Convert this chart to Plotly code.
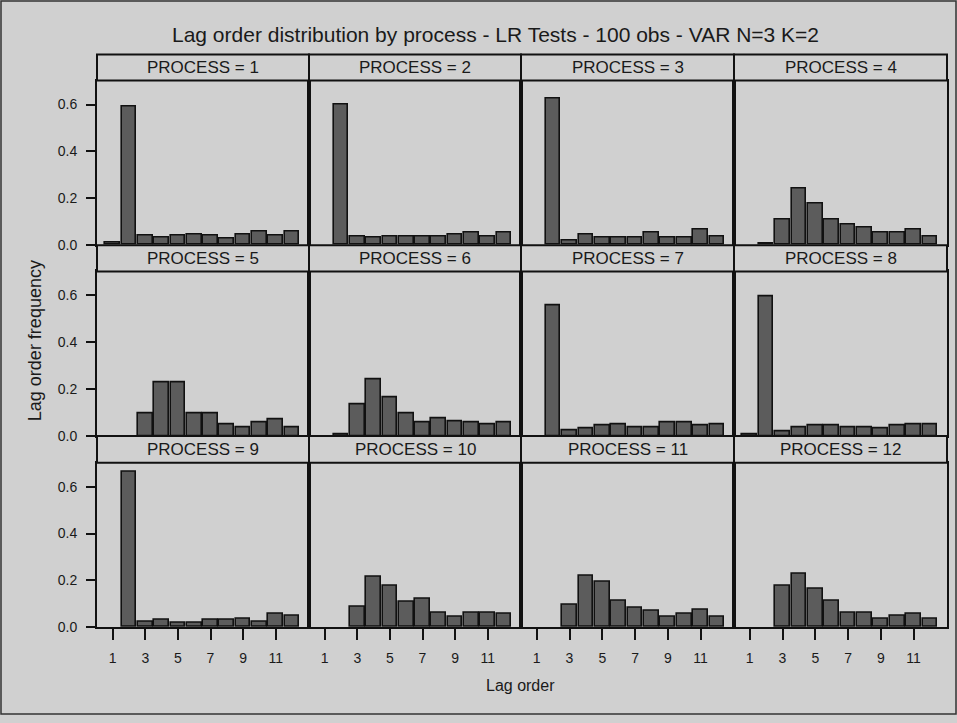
import plotly.graph_objects as go

# Lag order frequencies for each simulated process (lags 1..12)
lags = list(range(1, 13))
process_ids = list(range(1, 13))

freq_p1 = [0.01, 0.59, 0.04, 0.03, 0.04, 0.045, 0.04, 0.025, 0.045, 0.056, 0.04, 0.056]
freq_p2 = [0.0, 0.60, 0.037, 0.031, 0.037, 0.037, 0.037, 0.037, 0.044, 0.051, 0.037, 0.051]
freq_p3 = [0.0, 0.626, 0.017, 0.044, 0.031, 0.031, 0.031, 0.051, 0.031, 0.031, 0.063, 0.037]
freq_p4 = [0.0, 0.007, 0.107, 0.241, 0.178, 0.107, 0.087, 0.075, 0.051, 0.051, 0.063, 0.037]
freq_p5 = [0.0, 0.0, 0.096, 0.228, 0.228, 0.096, 0.096, 0.051, 0.037, 0.058, 0.07, 0.037]
freq_p6 = [0.0, 0.008, 0.134, 0.243, 0.165, 0.096, 0.058, 0.076, 0.063, 0.058, 0.051, 0.058]
freq_p7 = [0.0, 0.559, 0.025, 0.031, 0.045, 0.051, 0.038, 0.038, 0.058, 0.058, 0.045, 0.051]
freq_p8 = [0.008, 0.597, 0.018, 0.038, 0.045, 0.045, 0.038, 0.038, 0.031, 0.045, 0.051, 0.051]
freq_p9 = [0.0, 0.664, 0.023, 0.03, 0.017, 0.017, 0.03, 0.03, 0.037, 0.023, 0.055, 0.049]
freq_p10 = [0.0, 0.0, 0.087, 0.214, 0.176, 0.106, 0.12, 0.061, 0.042, 0.061, 0.061, 0.055]
freq_p11 = [0.0, 0.0, 0.093, 0.22, 0.195, 0.113, 0.082, 0.068, 0.042, 0.055, 0.075, 0.042]
freq_p12 = [0.0, 0.0, 0.176, 0.227, 0.164, 0.113, 0.061, 0.061, 0.037, 0.049, 0.055, 0.037]

all_freqs = [freq_p1, freq_p2, freq_p3, freq_p4, freq_p5, freq_p6,
             freq_p7, freq_p8, freq_p9, freq_p10, freq_p11, freq_p12]

x_tick_vals = [1, 3, 5, 7, 9, 11]
y_tick_vals = [0.0, 0.2, 0.4, 0.6]
y_tick_text = ["0.0", "0.2", "0.4", "0.6"]

W, H = 957, 723
BG = "#d0d0d0"
BAR_FILL = "#5c5c5c"
INK = "#111111"
TEXT = "#1a1a1a"
FONT = "Liberation Sans, Arial, sans-serif"

# panel grid in pixels
col_edges = [(97, 309), (309, 521), (521, 734), (734, 947)]
row_plot = [(81.5, 247.5), (274.5, 441), (468, 634)]
row_head = [(55, 81.5), (248, 274.5), (441, 468)]


def px_x(v):
    return v / W


def px_y(v):
    return 1 - v / H


fig = go.Figure()
shapes = []
annotations = []

for i, pid in enumerate(process_ids):
    r, c = divmod(i, 4)
    n = i + 1
    xa = "x" if n == 1 else f"x{n}"
    ya = "y" if n == 1 else f"y{n}"
    # an empty lag order gets no bar at all
    heights = [v if v > 0 else None for v in all_freqs[i]]
    fig.add_trace(go.Bar(
        x=lags, y=heights, xaxis=xa, yaxis=ya, width=0.9,
        marker=dict(color=BAR_FILL, line=dict(color=INK, width=1.6)),
        showlegend=False, hoverinfo="x+y",
    ))
    x0, x1 = col_edges[c]
    y0, y1 = row_plot[r]
    left = c == 0
    bottom = r == 2
    fig.layout[f"xaxis{'' if n == 1 else n}"] = dict(
        domain=[px_x(x0), px_x(x1)], anchor=ya,
        range=[0.04, 13.04], tickvals=x_tick_vals,
        showticklabels=bottom, ticks="outside" if bottom else "",
        ticklen=11, tickwidth=1.5, tickcolor=INK, ticklabelstandoff=6,
        showline=True, linecolor=INK, linewidth=2, mirror=True,
        showgrid=False, zeroline=False, fixedrange=True,
        tickfont=dict(family=FONT, size=14, color=TEXT),
    )
    fig.layout[f"yaxis{'' if n == 1 else n}"] = dict(
        domain=[px_y(y1), px_y(y0)], anchor=xa,
        range=[0, 0.7025], tickvals=y_tick_vals, ticktext=y_tick_text,
        showticklabels=left, ticks="outside" if left else "",
        ticklen=9, tickwidth=1.5, tickcolor=INK, ticklabelstandoff=6,
        showline=True, linecolor=INK, linewidth=2, mirror=True,
        showgrid=False, zeroline=False, fixedrange=True,
        tickfont=dict(family=FONT, size=14, color=TEXT),
    )
    # header strip with the process label
    hy0, hy1 = row_head[r]
    shapes.append(dict(
        type="rect", xref="paper", yref="paper",
        x0=px_x(x0), x1=px_x(x1), y0=px_y(hy1), y1=px_y(hy0),
        line=dict(color=INK, width=2), fillcolor=BG, layer="above",
    ))
    annotations.append(dict(
        text=f"PROCESS = {pid}", xref="paper", yref="paper",
        x=px_x((x0 + x1) / 2), y=px_y((hy0 + hy1) / 2),
        xanchor="center", yanchor="middle", showarrow=False,
        font=dict(family=FONT, size=17, color=TEXT),
    ))

# outer frame
shapes.append(dict(
    type="rect", xref="paper", yref="paper", x0=px_x(1), x1=px_x(W - 1),
    y0=px_y(H - 1), y1=px_y(1), line=dict(color="#333333", width=1.5),
    layer="below",
))

annotations += [
    dict(text="Lag order distribution by process - LR Tests - 100 obs - VAR N=3 K=2",
         xref="paper", yref="paper", x=px_x(495), y=px_y(35),
         xanchor="center", yanchor="middle", showarrow=False,
         font=dict(family=FONT, size=21, color=TEXT)),
    dict(text="Lag order", xref="paper", yref="paper",
         x=px_x(520), y=px_y(693), xanchor="center", yanchor="middle",
         showarrow=False, font=dict(family=FONT, size=16, color=TEXT)),
    dict(text="Lag order frequency", xref="paper", yref="paper",
         x=px_x(35), y=px_y(345), xanchor="center", yanchor="middle",
         textangle=-90, showarrow=False,
         font=dict(family=FONT, size=18, color=TEXT)),
]

fig.update_layout(
    width=W, height=H, margin=dict(l=0, r=0, t=0, b=0),
    paper_bgcolor=BG, plot_bgcolor=BG, bargap=0,
    shapes=shapes, annotations=annotations,
)

fig.write_html("out.html", config={"displayModeBar": False})
